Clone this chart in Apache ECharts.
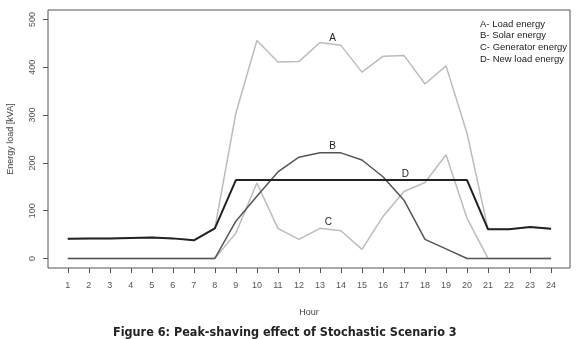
<!DOCTYPE html>
<html>
<head>
<meta charset="utf-8">
<script src="https://cdn.jsdelivr.net/npm/echarts@6/dist/echarts.min.js"></script>
<style>
  html, body { margin: 0; padding: 0; background: #fff; }
  #main { width: 580px; height: 339px; }
</style>
</head>
<body>
<div id="main"></div>
<script>
// hours on the x axis
var hours = [1, 2, 3, 4, 5, 6, 7, 8, 9, 10, 11, 12, 13, 14, 15, 16, 17, 18, 19, 20, 21, 22, 23, 24];
var yTicks = [0, 100, 200, 300, 400, 500];

// energy values (kVA)
var loadEnergy = [41, 42, 42, 43, 44, 42, 38, 63, 304, 456, 411, 412, 452, 446, 390, 423, 425, 365, 403, 262, 61, 61, 66, 62];
var solarEnergy = [0, 0, 0, 0, 0, 0, 0, 0, 78, 130, 181, 212, 221, 221, 206, 171, 122, 40, 20, 0, 0, 0, 0, 0];
var generatorEnergy = [0, 0, 0, 0, 0, 0, 0, 0, 53, 158, 63, 40, 63, 58, 19, 88, 140, 159, 217, 84, 0, 0, 0, 0];
var newLoadEnergy = [41, 42, 42, 43, 44, 42, 38, 63, 164, 164, 164, 164, 164, 164, 164, 164, 164, 164, 164, 164, 61, 61, 66, 62];

var seriesNames = ['A- Load energy', 'B- Solar energy', 'C- Generator energy', 'D- New load energy'];

function pairs(vals) {
  var out = [];
  for (var i = 0; i < hours.length; i++) {
    out.push([hours[i], vals[i]]);
  }
  return out;
}

// letter tag placed next to each curve
function tag(letter, x, y) {
  return {
    symbol: 'circle',
    symbolSize: 1,
    silent: true,
    itemStyle: { color: 'rgba(0,0,0,0)' },
    label: { show: true, position: 'inside', color: '#222', fontSize: 10, formatter: letter },
    data: [{ coord: [x, y] }]
  };
}

var chart = echarts.init(document.getElementById('main'), null, { renderer: 'canvas' });

var option = {
  animation: false,
  backgroundColor: '#fff',
  textStyle: { fontFamily: 'Liberation Sans' },
  title: {
    text: 'Figure 6: Peak-shaving effect of Stochastic Scenario 3',
    left: 108,
    top: 321,
    textStyle: { fontSize: 12.5, fontWeight: 'bold', color: '#222', fontFamily: 'DejaVu Sans Condensed, DejaVu Sans' }
  },
  legend: {
    data: seriesNames,
    orient: 'vertical',
    left: 470,
    top: 14,
    icon: 'none',
    itemWidth: 0,
    itemHeight: 10,
    itemGap: 1.7,
    selectedMode: false,
    textStyle: { fontSize: 9.5, color: '#222' }
  },
  grid: {
    left: 48,
    right: 10,
    top: 10,
    bottom: 71,
    outerBoundsMode: 'none',
    show: true,
    borderColor: '#555',
    borderWidth: 1
  },
  xAxis: {
    type: 'value',
    min: 0.06,
    max: 24.9,
    name: 'Hour',
    nameLocation: 'middle',
    nameGap: 40,
    nameTextStyle: { fontSize: 9, color: '#444' },
    axisLine: { show: false, onZero: false },
    splitLine: { show: false },
    axisTick: { show: true, customValues: hours, length: 5, lineStyle: { color: '#555' } },
    axisLabel: { customValues: hours, margin: 13, fontSize: 9, color: '#555' }
  },
  yAxis: {
    type: 'value',
    min: -20,
    max: 520,
    name: 'Energy load [kVA]',
    nameLocation: 'middle',
    nameGap: 33,
    nameTextStyle: { fontSize: 9, color: '#444' },
    axisLine: { show: false, onZero: false },
    splitLine: { show: false },
    axisTick: { show: true, customValues: yTicks, length: 5, lineStyle: { color: '#555' } },
    axisLabel: { customValues: yTicks, rotate: 90, margin: 11, fontSize: 9, color: '#555' }
  },
  series: [
    {
      name: seriesNames[0],
      type: 'line',
      data: pairs(loadEnergy),
      symbol: 'none',
      lineStyle: { color: '#bcbcbc', width: 1.5 },
      itemStyle: { color: '#bcbcbc' },
      markPoint: tag('A', 13.6, 460),
      z: 2
    },
    {
      name: seriesNames[2],
      type: 'line',
      data: pairs(generatorEnergy),
      symbol: 'none',
      lineStyle: { color: '#bcbcbc', width: 1.5 },
      itemStyle: { color: '#bcbcbc' },
      markPoint: tag('C', 13.4, 75),
      z: 2
    },
    {
      name: seriesNames[1],
      type: 'line',
      data: pairs(solarEnergy),
      symbol: 'none',
      lineStyle: { color: '#555', width: 1.5 },
      itemStyle: { color: '#555' },
      markPoint: tag('B', 13.6, 234),
      z: 3
    },
    {
      name: seriesNames[3],
      type: 'line',
      data: pairs(newLoadEnergy),
      symbol: 'none',
      lineStyle: { color: '#222', width: 2 },
      itemStyle: { color: '#222' },
      markPoint: tag('D', 17.06, 176),
      z: 4
    }
  ]
};

chart.setOption(option);
</script>
</body>
</html>
